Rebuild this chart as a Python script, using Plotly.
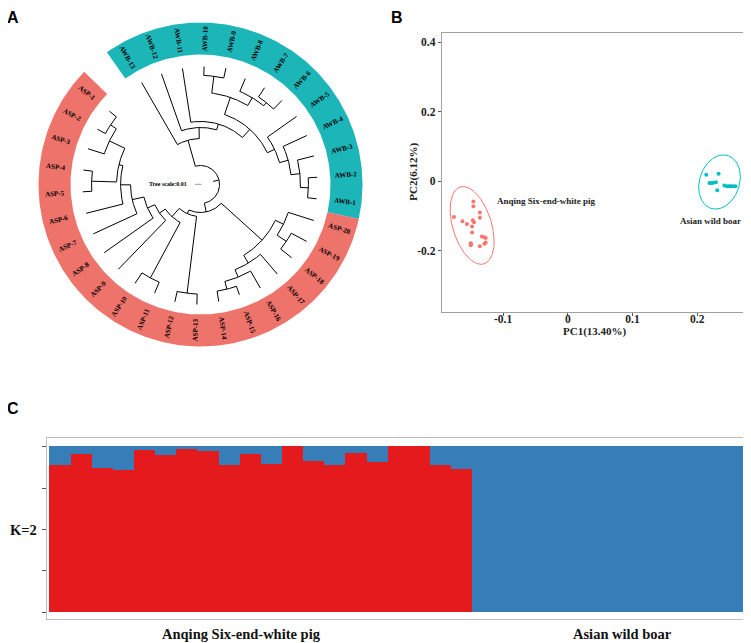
import numpy as np
import plotly.graph_objects as go

# The page body has an 8px margin: lay the figure out in reference pixels shifted by OFF.
OFF = 8
W, H = 751 - OFF, 643 - OFF
SERIF = "Liberation Serif"
SANS = "Liberation Sans"


def fx(X):
    return (X - OFF) / W


def fy(Y):
    return 1 - (Y - OFF) / H


# ---------------- Panel A : circular tree ----------------
leaf_order = ["ASP-1", "ASP-2", "ASP-3", "ASP-4", "ASP-5", "ASP-6", "ASP-7", "ASP-8", "ASP-9", "ASP-10",
              "ASP-11", "ASP-12", "ASP-13", "ASP-14", "ASP-15", "ASP-16", "ASP-17", "ASP-18", "ASP-19", "ASP-20",
              "AWB-1", "AWB-2", "AWB-3", "AWB-4", "AWB-5", "AWB-6", "AWB-7", "AWB-8", "AWB-9", "AWB-10",
              "AWB-11", "AWB-12", "AWB-13"]
leaf_group = ["ASP"] * 20 + ["AWB"] * 13
group_ring_color = {"ASP": "#EE736B", "AWB": "#1DB6B8"}

# Newick clades (branch lengths in substitutions/site)
clade_X7 = "(ASP-3:0.0254,(ASP-1:0.0134,ASP-2:0.0134):0.0104):0.0254"
clade_X6 = f"((ASP-4:0.0134,ASP-5:0.0134):0.0373,{clade_X7}):0.0060"
clade_X5 = f"(ASP-6:0.0567,{clade_X6}):0.0149"
clade_X4 = f"(ASP-7:0.0716,{clade_X5}):0.0179"
clade_X3 = f"(ASP-8:0.0896,{clade_X4}):0.0119"
clade_X2 = f"(ASP-9:0.1015,{clade_X3}):0.0104"
clade_X1 = f"((ASP-10:0.0188,ASP-11:0.0179):0.0940,{clade_X2}):0.0164"
clade_left = f"((ASP-12:0.0157,ASP-13:0.0157):0.1157,{clade_X1}):0.0060"
clade_Rup = "(ASP-20:0.0400,(ASP-18:0.0209,ASP-19:0.0261):0.0164):0.0134"
clade_D3 = "(ASP-15:0.0134,ASP-14:0.0157):0.0119"
clade_D2 = f"(ASP-16:0.0294,{clade_D3}):0.0119"
clade_D1 = f"(ASP-17:0.0388,{clade_D2}):0.0134"
clade_R = f"({clade_Rup},{clade_D1}):0.0821"
clade_lower = f"({clade_left},{clade_R}):0.0134"
clade_W2d = "(AWB-2:0.0134,AWB-1:0.0134):0.0119"
clade_W2c = f"(AWB-3:0.0254,{clade_W2d}):0.0134"
clade_W2b = f"(AWB-4:0.0388,{clade_W2c}):0.0134"
clade_W2 = f"(AWB-5:0.0534,{clade_W2b}):0.0119"
clade_W1b = "(AWB-8:0.0209,(AWB-7:0.0164,AWB-6:0.0179):0.0060):0.0134"
clade_W1a = f"((AWB-9:0.0149,AWB-10:0.0134):0.0254,{clade_W1b}):0.0269"
clade_U4 = f"({clade_W1a},{clade_W2}):0.0164"
clade_U3 = f"(AWB-11:0.0813,{clade_U4}):0.0090"
clade_U2 = f"(AWB-12:0.0900,{clade_U3}):0.0164"
clade_upper = f"(AWB-13:0.1069,{clade_U2}):0.0403"
newick = f"({clade_lower},{clade_upper}):0.009;"
tree_scale = 0.01

# layout parameters (pixels / degrees)
tree_cx, tree_cy = 200.5, 184.5
px_per_unit = 670.0
r_offset = 13.0
angle_start = 141.2
angle_step = 360.0 / 34
ring_inner, ring_outer, label_r = 130.0, 162.0, 146.0


def parse_newick(s):
    s = s.strip().rstrip(";")
    pos = 0

    def node():
        nonlocal pos
        children = []
        if s[pos] == "(":
            pos += 1
            while True:
                children.append(node())
                if s[pos] == ",":
                    pos += 1
                    continue
                if s[pos] == ")":
                    pos += 1
                    break
        st = pos
        while pos < len(s) and s[pos] not in ",():":
            pos += 1
        name = s[st:pos]
        bl = 0.0
        if pos < len(s) and s[pos] == ":":
            pos += 1
            st = pos
            while pos < len(s) and s[pos] not in ",()":
                pos += 1
            bl = float(s[st:pos])
        return {"name": name, "bl": bl, "children": children}

    return node()


leaf_angle = {nm: angle_start + i * angle_step for i, nm in enumerate(leaf_order)}
tree = parse_newick(newick)


def place(n, parent_depth):
    n["pdepth"] = parent_depth
    n["depth"] = parent_depth + n["bl"]
    if n["children"]:
        for c in n["children"]:
            place(c, n["depth"])
        n["angle"] = float(np.mean([c["angle"] for c in n["children"]]))
    else:
        n["angle"] = leaf_angle[n["name"]]


place(tree, 0.0)


def rad(d):
    return r_offset + px_per_unit * d


tx, ty = [], []


def draw(n):
    a = np.radians(n["angle"])
    r0, r1 = rad(n["pdepth"]), rad(n["depth"])
    tx.extend([r0 * np.cos(a), r1 * np.cos(a), None])
    ty.extend([r0 * np.sin(a), r1 * np.sin(a), None])
    if n["children"]:
        angs = [c["angle"] for c in n["children"]]
        t = np.radians(np.linspace(min(angs), max(angs), 60))
        tx.extend(list(r1 * np.cos(t)) + [None])
        ty.extend(list(r1 * np.sin(t)) + [None])
        for c in n["children"]:
            draw(c)


draw(tree)

fig = go.Figure()

# ring segments
for g in ["AWB", "ASP"]:
    angs = [leaf_angle[nm] for nm, gg in zip(leaf_order, leaf_group) if gg == g]
    t = np.radians(np.linspace(min(angs) - angle_step / 2, max(angs) + angle_step / 2, 200))
    xs = np.concatenate([ring_outer * np.cos(t), ring_inner * np.cos(t[::-1])])
    ys = np.concatenate([ring_outer * np.sin(t), ring_inner * np.sin(t[::-1])])
    fig.add_trace(go.Scatter(x=xs, y=ys, fill="toself", fillcolor=group_ring_color[g], mode="lines",
                             line=dict(width=0, color=group_ring_color[g]), xaxis="x3", yaxis="y3",
                             hoverinfo="skip"))

fig.add_trace(go.Scatter(x=tx, y=ty, mode="lines", line=dict(color="black", width=1),
                         xaxis="x3", yaxis="y3", hoverinfo="skip"))

# scale bar
sb_x0 = -5.5
fig.add_trace(go.Scatter(x=[sb_x0, sb_x0 + tree_scale * px_per_unit], y=[0.2, 0.2], mode="lines",
                         line=dict(color="#999999", width=1), xaxis="x3", yaxis="y3", hoverinfo="skip"))

annotations = []
for nm in leaf_order:
    a = leaf_angle[nm] % 360
    ang = np.radians(a)
    tangle = 180 - a if 90 < a < 270 else -a
    annotations.append(dict(x=label_r * np.cos(ang), y=label_r * np.sin(ang), xref="x3", yref="y3",
                            text=nm, showarrow=False, textangle=tangle, xanchor="center", yanchor="middle",
                            font=dict(family=SERIF, size=7, color="black", weight="bold")))
annotations.append(dict(x=-11.2, y=0.2, xref="x3", yref="y3", text="Tree scale:0.01", showarrow=False,
                        xanchor="right", yanchor="middle",
                        font=dict(family=SERIF, size=6, color="black", weight="bold")))

# ---------------- Panel B : PCA ----------------
pc1_asp = [-0.146, -0.146, -0.136, -0.136, -0.176, -0.163, -0.156, -0.147, -0.145, -0.148,
           -0.148, -0.133, -0.129, -0.127, -0.150, -0.150, -0.150, -0.136, -0.127, -0.129]
pc2_asp = [-0.058, -0.072, -0.090, -0.105, -0.103, -0.115, -0.123, -0.112, -0.118, -0.130,
           -0.147, -0.159, -0.161, -0.163, -0.178, -0.184, -0.181, -0.187, -0.176, -0.180]
pc1_awb = [0.214, 0.233, 0.219, 0.222, 0.225, 0.229, 0.231, 0.242, 0.246, 0.249, 0.252, 0.255, 0.259]
pc2_awb = [0.019, 0.022, -0.005, -0.005, -0.004, -0.003, -0.026, -0.012, -0.014, -0.014, -0.014, -0.014, -0.014]
col_asp, col_awb = "#F8766D", "#00BFC4"

# 95% ellipses: centre and shape factor [[a, 0], [c, b]] (PC units)
ellipse_asp_center = [-0.148, -0.127]
ellipse_asp_shape = [0.034, -0.0458, 0.1022]
ellipse_awb_center = [0.2345, -0.002]
ellipse_awb_shape = [0.0322, 0.015, 0.0765]


def ellipse_path(center, shape, n=240):
    a, c, b = shape
    t = np.linspace(0, 2 * np.pi, n)
    return center[0] + a * np.cos(t), center[1] + c * np.cos(t) + b * np.sin(t)


for px, py, col, ec, es in [(pc1_asp, pc2_asp, col_asp, ellipse_asp_center, ellipse_asp_shape),
                            (pc1_awb, pc2_awb, col_awb, ellipse_awb_center, ellipse_awb_shape)]:
    ex, ey = ellipse_path(ec, es)
    fig.add_trace(go.Scatter(x=ex, y=ey, mode="lines", line=dict(color=col, width=1), xaxis="x", yaxis="y",
                             hoverinfo="skip"))
    fig.add_trace(go.Scatter(x=px, y=py, mode="markers", marker=dict(color=col, size=4), xaxis="x", yaxis="y"))

annotations.append(dict(x=-0.1125, y=-0.058, xref="x", yref="y", text="Anqing Six-end-white pig",
                        showarrow=False, xanchor="left", yanchor="middle",
                        font=dict(family=SERIF, size=9, color="#222", weight="bold")))
annotations.append(dict(x=0.2209, y=-0.113, xref="x", yref="y", text="Asian wild boar",
                        showarrow=False, xanchor="center", yanchor="middle",
                        font=dict(family=SERIF, size=9, color="#222", weight="bold")))
annotations.append(dict(x=fx(595), y=fy(331.7), xref="paper", yref="paper", text="PC1(13.40%)",
                        showarrow=False, xanchor="center", yanchor="middle",
                        font=dict(family=SERIF, size=11, color="#222", weight="bold")))
annotations.append(dict(x=fx(414), y=fy(171.7), xref="paper", yref="paper", text="PC2(6.12%)",
                        showarrow=False, xanchor="center", yanchor="middle", textangle=-90,
                        font=dict(family=SERIF, size=11, color="#222", weight="bold")))

# ---------------- Panel C : admixture K=2 ----------------
individuals = leaf_order
q_red = [0.885, 0.952, 0.871, 0.857, 0.976, 0.948, 0.986, 0.972, 0.889, 0.952,
         0.893, 1.000, 0.913, 0.885, 0.962, 0.905, 1.000, 1.000, 0.885, 0.865,
         0.0, 0.0, 0.0, 0.0, 0.0, 0.0, 0.0, 0.0, 0.0, 0.0, 0.0, 0.0, 0.0]
q_blue = [1 - v for v in q_red]
xpos = list(range(len(individuals)))
fig.add_trace(go.Bar(x=xpos, y=q_red, marker=dict(color="#E41A1C", line=dict(width=0)), width=1.0,
                     xaxis="x2", yaxis="y2"))
fig.add_trace(go.Bar(x=xpos, y=q_blue, marker=dict(color="#377EB8", line=dict(width=0)), width=1.0,
                     xaxis="x2", yaxis="y2"))

annotations.append(dict(x=fx(8), y=fy(530), xref="paper", yref="paper", text="K=2", showarrow=False,
                        xanchor="left", yanchor="middle",
                        font=dict(family=SERIF, size=14.5, color="#111", weight="bold")))
annotations.append(dict(x=fx(241.4), y=fy(634), xref="paper", yref="paper", text="Anqing Six-end-white pig",
                        showarrow=False, xanchor="center", yanchor="middle",
                        font=dict(family=SERIF, size=14.5, color="#111", weight="bold")))
annotations.append(dict(x=fx(622), y=fy(634), xref="paper", yref="paper", text="Asian wild boar",
                        showarrow=False, xanchor="center", yanchor="middle",
                        font=dict(family=SERIF, size=14.5, color="#111", weight="bold")))

# panel letters (A and B sit against the top edge of the page)
for txt, lx, ly, yanc in [("A", 13, OFF, "top"), ("B", 397, OFF, "top"), ("C", 12.5, 408, "middle")]:
    annotations.append(dict(x=fx(lx), y=fy(ly), xref="paper", yref="paper", text=txt, showarrow=False,
                            xanchor="center", yanchor=yanc, borderpad=0,
                            font=dict(family=SANS, size=16, color="black", weight="bold")))

tickfont = dict(family=SERIF, size=11.5, color="#222", weight="bold")
fig.update_layout(
    width=W, height=H, margin=dict(l=0, r=0, t=0, b=0), paper_bgcolor="white", plot_bgcolor="white",
    showlegend=False, barmode="stack", bargap=0, annotations=annotations,
    xaxis=dict(domain=[fx(441.7), fx(748.3)], anchor="y", range=[-0.195, 0.279], tickvals=[-0.1, 0, 0.1, 0.2],
               ticktext=["-0.1", "0", "0.1", "0.2"], showgrid=False, zeroline=False, showline=True, mirror=True,
               linecolor="#A0A0A0", linewidth=1, ticks="outside", ticklen=3, tickcolor="#555",
               tickfont=tickfont, ticklabelstandoff=-7, fixedrange=True),
    yaxis=dict(domain=[fy(312.3), fy(33.3)], anchor="x", range=[-0.377, 0.426],
               tickvals=[-0.2, 0, 0.2, 0.4], ticktext=["-0.2", "0", "0.2", "0.4"], showgrid=False,
               zeroline=False, showline=True, mirror=True, linecolor="#A0A0A0", linewidth=1, ticks="outside",
               ticklen=3, tickcolor="#555", tickfont=tickfont, fixedrange=True),
    xaxis2=dict(domain=[fx(46.9), fx(749.5)], anchor="y2", range=[-0.6135, 32.61], showticklabels=False,
                ticks="", showgrid=False, zeroline=False, showline=True, mirror=True, linecolor="#BDBDBD",
                linewidth=1, fixedrange=True),
    yaxis2=dict(domain=[fy(619.3), fy(438.3)], anchor="x2", range=[-0.0423, 1.0507],
                tickvals=[0, 0.25, 0.5, 0.75, 1], showticklabels=False, ticks="outside", ticklen=4,
                tickcolor="#555", showgrid=False, zeroline=False, showline=True, mirror=True,
                linecolor="#BDBDBD", linewidth=1, fixedrange=True),
    xaxis3=dict(domain=[fx(OFF), fx(400)], anchor="y3", range=[OFF - tree_cx, 400 - tree_cx],
                visible=False, fixedrange=True),
    yaxis3=dict(domain=[fy(400), fy(OFF)], anchor="x3", range=[tree_cy - 400, tree_cy - OFF],
                visible=False, fixedrange=True),
)

fig.write_html("out.html")
